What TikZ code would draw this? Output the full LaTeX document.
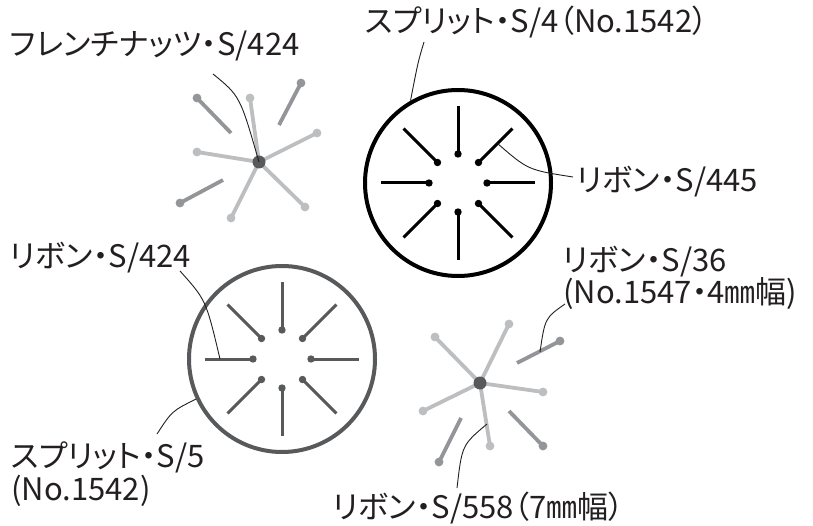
\documentclass[tikz,border=0pt]{standalone}
\usepackage{fontspec}
\setmainfont{Noto Sans CJK JP}[RawFeature=+palt]
\definecolor{ink}{HTML}{231F20}
\definecolor{lightg}{HTML}{BCBEC0}
\definecolor{midg}{HTML}{939598}
\definecolor{darkg}{HTML}{58595B}
\begin{document}
\begin{tikzpicture}[x=1pt,y=-1pt,
  txt/.style={text=ink, inner sep=0pt, anchor=west, font=\fontsize{31}{33}\selectfont, align=left},
  callout/.style={draw=ink, line width=0.9pt},
  wheel/.style={circle, draw=#1, line width=4pt, minimum size=186pt, inner sep=0pt},
  wspoke/.style={draw=#1, line width=3pt},
  lspoke/.style={draw=lightg, line width=3.8pt},
  mspoke/.style={draw=midg, line width=3.8pt},
  knot/.style={circle, fill=darkg, minimum size=13pt, inner sep=0pt}]
\useasboundingbox (0,0) rectangle (813,526);

% ---------- top wheel (black) ----------
\node[wheel=black] (topwheel) at (458,183) {};
\begin{scope}[shift={(458,183)}]
  \foreach \a in {0,45,...,315} {
    \draw[wspoke=black] (\a:29) -- (\a:77);
    \fill[black] (\a:29) circle (3.7);
  }
\end{scope}
\coordinate (topspoke) at (497.5,143.5);

% ---------- bottom wheel (gray) ----------
\node[wheel=darkg] (botwheel) at (282,359) {};
\begin{scope}[shift={(282,359)}]
  \foreach \a in {0,45,...,315} {
    \draw[wspoke=darkg] (\a:29) -- (\a:77);
    \fill[darkg] (\a:29) circle (3.7);
  }
\end{scope}
\coordinate (botspoke) at (220,359);

% ---------- top-left starburst ----------
\coordinate (fkc) at (259,162);
\foreach \p in {(250,98),(317,133),(197,152),(231,218),(305,207)} {
  \draw[lspoke] (fkc) -- \p;
  \fill[lightg] \p circle (4.4);
}
\draw[mspoke] (197,98) -- (231,133);  \fill[midg] (197,98) circle (4.4);
\draw[mspoke] (301,83) -- (279,125);  \fill[midg] (301,83) circle (4.4);
\draw[mspoke] (180,203) -- (223,180); \fill[midg] (180,203) circle (4.4);
\node[knot] (fk) at (fkc) {};

% ---------- bottom-right starburst ----------
\coordinate (rbc) at (480,383);
\foreach \p in {(435,337),(509,324),(543,392),(423,411),(490,446)} {
  \draw[lspoke] (rbc) -- \p;
  \fill[lightg] \p circle (4.4);
}
\draw[mspoke] (560,341) -- (517,363); \fill[midg] (560,341) circle (4.4);
\draw[mspoke] (543,446) -- (509,411); \fill[midg] (543,446) circle (4.4);
\draw[mspoke] (439,462) -- (461,418); \fill[midg] (439,462) circle (4.4);
\node[knot] (rb) at (rbc) {};
\coordinate (segR) at (540,352);
\coordinate (spokeR) at (487,424);

% ---------- labels ----------
\node[txt] (lfk) at (10,46) {フレンチナッツ・S/424};
\node[txt] (lsp4) at (365,22) {スプリット・S/4（No.1542）};
\node[txt] (lr445) at (577,182) {リボン・S/445};
\node[txt] (lr424) at (10,258) {リボン・S/424};
\node[txt, font=\fontsize{31}{33}\selectfont] (lsp5) at (11,474) {スプリット・S/5\\(No.1542)};
\node[txt, font=\fontsize{31}{30}\selectfont] (lr36) at (563,278) {リボン・S/36\\(No.1547・4㎜幅)};
\node[txt] (lr558) at (333,508) {リボン・S/558（7㎜幅）};

% ---------- callouts ----------
\coordinate (c1a) at (213,74);
\draw[callout] (c1a) .. controls (240,96) .. (fk.center);
\coordinate (c2a) at (424,42);
\draw[callout] (c2a) .. controls (418,62) .. (topwheel.120);
\coordinate (c3a) at (573,177);
\draw[callout] (topspoke) .. controls (528,170) .. (c3a);
\coordinate (c4a) at (180,271);
\draw[callout] (c4a) .. controls (206,300) .. (botspoke);
\coordinate (c5a) at (157,434);
\draw[callout] (c5a) .. controls (172,411) .. (botwheel.205);
\coordinate (c6a) at (565,304);
\draw[callout] (c6a) .. controls (545,318) .. (segR);
\coordinate (c7a) at (457,488);
\draw[callout] (spokeR) .. controls (462,445) .. (c7a);
\end{tikzpicture}
\end{document}
